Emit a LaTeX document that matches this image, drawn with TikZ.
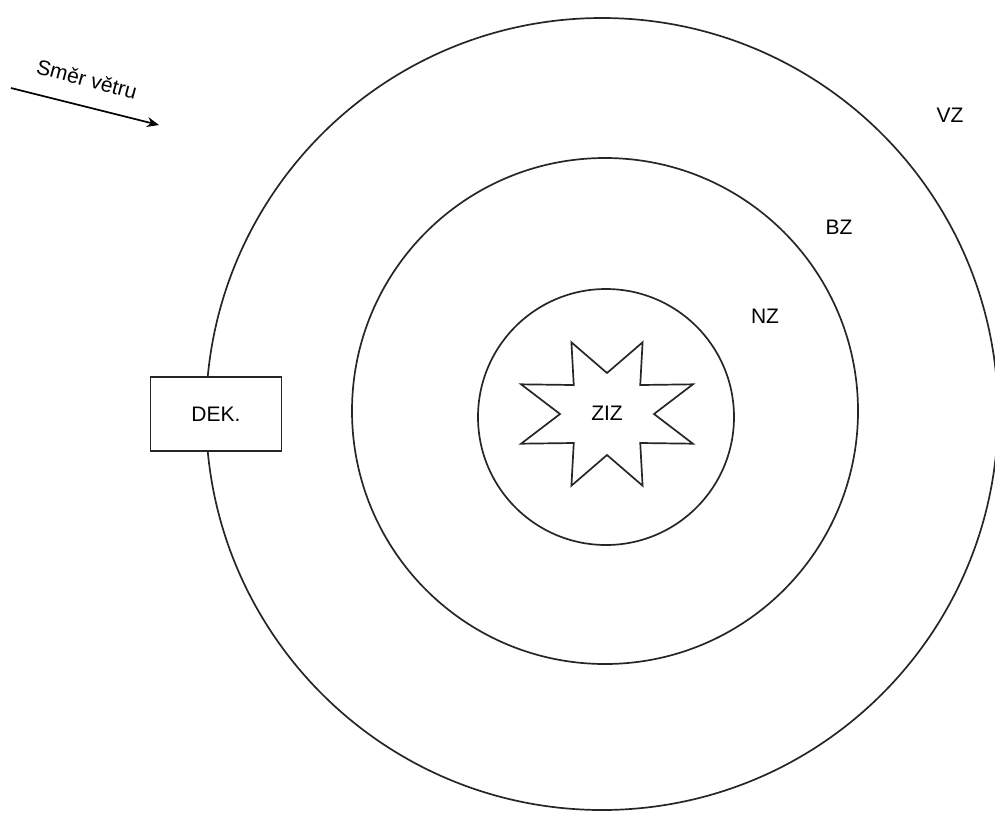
\documentclass[tikz,border=0pt]{standalone}
\usepackage{fontspec}
\setmainfont{Liberation Sans}
\usepackage{tikz}
\usetikzlibrary{arrows.meta}

\tikzset{
    zone/.style={draw=black!85, line width=1.7pt},
    zonelabel/.style={font=\fontsize{21}{25}\selectfont},
}

\begin{document}
\begin{tikzpicture}[x=1pt, y=-1pt]
            \useasboundingbox (0,0) rectangle (995,812);
            \clip (0,0) rectangle (995,812);
            % zones round the source
            \node[zone, circle, minimum size=792pt, inner sep=0pt] (vz) at (602,414) {};
            \node[zone, circle, minimum size=506pt, inner sep=0pt] (bz) at (605,411) {};
            \node[zone, circle, minimum size=256pt, inner sep=0pt] (nz) at (606,417) {};
            % eight pointed star
            \draw[zone, line join=miter, shift={(607,414)}] (0:47 and 41)
                \foreach \k in {0,...,7}{ -- ({45*\k+22.5}:93 and 77.6) -- ({45*\k+45}:47 and 41) } -- cycle;
            \node[zonelabel] (ziz) at (607,413) {ZIZ};
            \node[zonelabel] (nzlabel) at (765,316) {NZ};
            \node[zonelabel] (bzlabel) at (839,227) {BZ};
            \node[zonelabel] (vzlabel) at (950,115) {VZ};
            % decontamination box on the outer ring
            \node[zone, zonelabel, fill=white, minimum width=131pt, minimum height=74pt] (dek) at (216,414) {DEK.};
            % wind
            \coordinate (windfrom) at (11,88);
            \coordinate (windto) at (159,125);
            \draw[line width=1.7pt, -{Stealth[length=12pt, width=10pt]}] (windfrom) -- (windto);
            \node[zonelabel, rotate=-15, inner sep=1pt] (wind) at (87,79) {Směr větru};
        \end{tikzpicture}
\end{document}
